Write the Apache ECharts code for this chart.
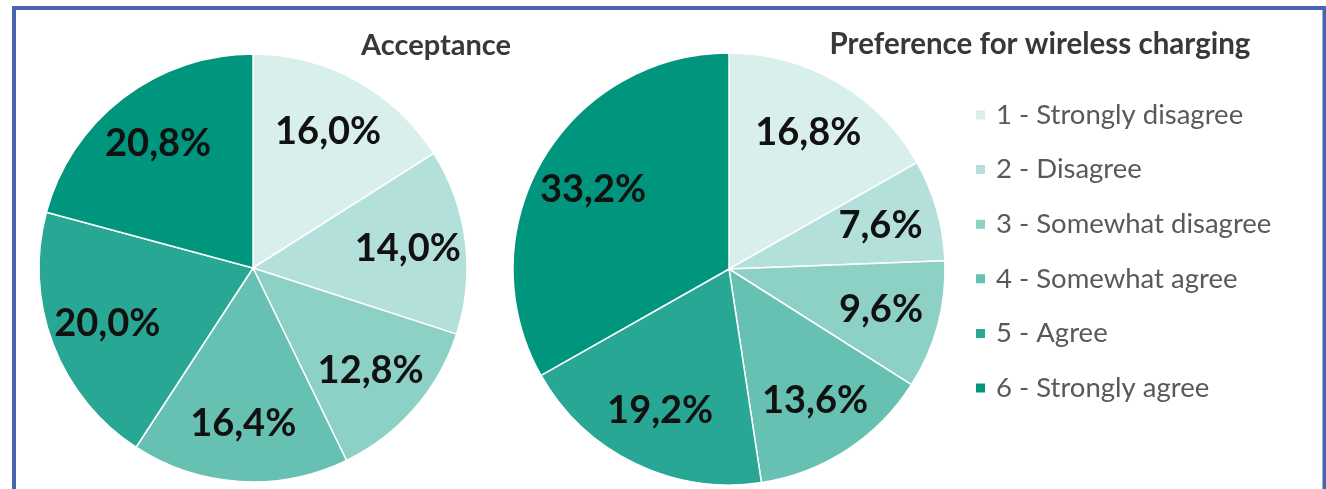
<!DOCTYPE html>
<html><head><meta charset="utf-8">
<script src="https://cdn.jsdelivr.net/npm/echarts@6/dist/echarts.min.js"></script>
<style>html,body{margin:0;padding:0;background:#fff;}#c{width:1326px;height:489px;}</style>
</head><body><div id="c"></div>
<script>
const categories = ['1 - Strongly disagree','2 - Disagree','3 - Somewhat disagree','4 - Somewhat agree','5 - Agree','6 - Strongly agree'];
const acceptance = [16.0, 14.0, 12.8, 16.4, 20.0, 20.8];
const preference = [16.8, 7.6, 9.6, 13.6, 19.2, 33.2];
const titles = ['Acceptance', 'Preference for wireless charging'];
const colors = ['#d9efeb','#b3e0da','#8dd1c6','#66c1b3','#27a794','#00967e'];

const fmt = p => p.value.toFixed(1).replace('.', ',') + '%';
function pieSeries(vals, cx, cy, r) {
  const data = vals.map((v, i) => ({name: categories[i], value: v, itemStyle: {color: colors[i]}}));
  return [
    {type: 'pie', center: [cx, cy], radius: [0, r], startAngle: 90, clockwise: true,
     avoidLabelOverlap: false, silent: true, label: {show: false}, labelLine: {show: false},
     itemStyle: {borderColor: '#fff', borderWidth: 1.5}, data: data},
    {type: 'pie', center: [cx, cy], radius: [r * 0.43, r], startAngle: 90, clockwise: true,
     avoidLabelOverlap: false, silent: true, z: 5,
     itemStyle: {color: 'rgba(0,0,0,0)', borderWidth: 0},
     label: {show: true, position: 'inside', formatter: fmt, fontFamily: 'Lato', fontWeight: 'bold', fontSize: 38, color: '#111'},
     labelLine: {show: false},
     data: vals.map((v, i) => ({name: categories[i], value: v}))}
  ];
}

const chart = echarts.init(document.getElementById('c'), null, {renderer: 'canvas'});
chart.setOption({
  animation: false,
  graphic: [{type: 'rect', shape: {x: 14, y: 8, width: 1310.5, height: 600}, style: {fill: 'none', stroke: '#4765b0', lineWidth: 4}, z: 100}],
  title: [
    {text: titles[0], left: 431, top: 26, textAlign: 'center', textStyle: {fontFamily: 'Lato', fontWeight: 'bold', fontSize: 29, color: '#383838'}},
    {text: titles[1], left: 1035, top: 24, textAlign: 'center', textStyle: {fontFamily: 'Lato', fontWeight: 'bold', fontSize: 29.5, color: '#383838'}}
  ],
  legend: {
    orient: 'vertical', left: 969, top: 96, itemWidth: 11, itemHeight: 11, itemGap: 26.6, icon: 'rect',
    selectedMode: false,
    textStyle: {fontFamily: 'Lato', fontSize: 27.5, lineHeight: 24, color: '#595959', padding: [0, 0, 0, 5]},
    data: categories.map((c, i) => ({name: c, itemStyle: {color: colors[i]}}))
  },
  series: [].concat(pieSeries(acceptance, 253, 268, 214), pieSeries(preference, 729, 269, 216))
});
</script></body></html>
